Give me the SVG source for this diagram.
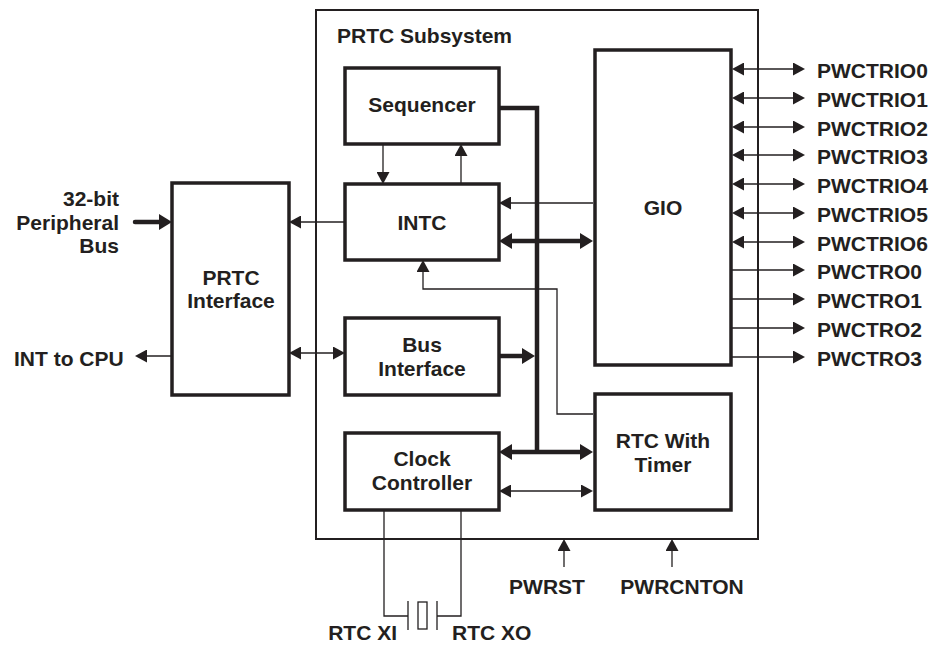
<svg xmlns="http://www.w3.org/2000/svg" width="930" height="645" viewBox="0 0 930 645">
<style>
text{font-family:"Liberation Sans",Arial,sans-serif;font-weight:bold;font-size:21px;fill:#231f20}
.c{text-anchor:middle}
.e{text-anchor:end}
.box{fill:#fff;stroke:#231f20;stroke-width:3.5}
.outer{fill:#fff;stroke:#231f20;stroke-width:2}
.thin{fill:none;stroke:#231f20;stroke-width:1.3}
.thick{fill:none;stroke:#231f20;stroke-width:4.5}
.ta{marker-end:url(#a)}
.tb{marker-start:url(#a);marker-end:url(#a)}
.Ta{marker-end:url(#A)}
.Tb{marker-start:url(#A);marker-end:url(#A)}
</style>
<defs>
<marker id="a" markerUnits="userSpaceOnUse" viewBox="0 0 12 13" markerWidth="12" markerHeight="13" refX="9" refY="6.5" orient="auto-start-reverse"><path d="M0,0L12,6.5L0,13z" fill="#231f20"/></marker>
<marker id="A" markerUnits="userSpaceOnUse" viewBox="0 0 13 16" markerWidth="13" markerHeight="16" refX="7" refY="8" orient="auto-start-reverse"><path d="M0,0L13,8L0,16z" fill="#231f20"/></marker>
</defs>
<rect width="930" height="645" fill="#fff"/>
<g id="subsystem">
<rect class="outer" x="316" y="10" width="442" height="529"/>
<text x="337" y="43">PRTC Subsystem</text>
</g>
<g id="connectors">
<path class="thick Ta" d="M135,222H166" stroke-linecap="round"/>
<path class="thin ta" d="M345,222H292"/>
<path class="thin ta" d="M172,356H138"/>
<path class="thin tb" d="M292,353H342"/>
<path class="thick Ta" d="M499,356H529"/>
<path class="thick" d="M499,108H537V452"/>
<path class="thick Tb" d="M505,452H587"/>
<path class="thin tb" d="M502,491H590"/>
<path class="thick Tb" d="M505,241H587"/>
<path class="thin ta" d="M593,203H502"/>
<path class="thin ta" d="M383,144V181"/>
<path class="thin ta" d="M461,184V147"/>
<path class="thin ta" d="M593,414H557V289H423V263"/>
<path class="thin tb" d="M735,69H802"/>
<path class="thin tb" d="M735,98H802"/>
<path class="thin tb" d="M735,127H802"/>
<path class="thin tb" d="M735,155H802"/>
<path class="thin tb" d="M735,184H802"/>
<path class="thin tb" d="M735,213H802"/>
<path class="thin tb" d="M735,242H802"/>
<path class="thin ta" d="M731,270H802"/>
<path class="thin ta" d="M731,299H802"/>
<path class="thin ta" d="M731,328H802"/>
<path class="thin ta" d="M731,357H802"/>
<path class="thin ta" d="M564,567V542"/>
<path class="thin ta" d="M672,567V542"/>
<path class="thin" d="M384,510V616H408M408,601V630M437,601V630M437,616H461V510"/>
<rect class="thin" x="418" y="602" width="9" height="27"/>
</g>
<g id="prtc-interface">
<rect class="box" x="172" y="183" width="117" height="212"/>
<text class="c" x="231" y="285">PRTC</text>
<text class="c" x="231" y="308">Interface</text>
</g>
<g id="sequencer">
<rect class="box" x="345" y="68" width="154" height="76"/>
<text class="c" x="422" y="112">Sequencer</text>
</g>
<g id="intc">
<rect class="box" x="345" y="184" width="154" height="76"/>
<text class="c" x="422" y="230">INTC</text>
</g>
<g id="bus-interface">
<rect class="box" x="345" y="318" width="154" height="77"/>
<text class="c" x="422" y="352">Bus</text>
<text class="c" x="422" y="376">Interface</text>
</g>
<g id="clock-controller">
<rect class="box" x="345" y="433" width="154" height="77"/>
<text class="c" x="422" y="466">Clock</text>
<text class="c" x="422" y="490">Controller</text>
</g>
<g id="gio">
<rect class="box" x="595" y="50" width="136" height="315"/>
<text class="c" x="663" y="215">GIO</text>
</g>
<g id="rtc-timer">
<rect class="box" x="595" y="394" width="136" height="116"/>
<text class="c" x="663" y="448">RTC With</text>
<text class="c" x="663" y="472">Timer</text>
</g>
<g id="labels">
<text class="e" x="119" y="206">32-bit</text>
<text class="e" x="119" y="230">Peripheral</text>
<text class="e" x="119" y="253">Bus</text>
<text x="14" y="366">INT to CPU</text>
<text x="817" y="78">PWCTRIO0</text>
<text x="817" y="107">PWCTRIO1</text>
<text x="817" y="136">PWCTRIO2</text>
<text x="817" y="164">PWCTRIO3</text>
<text x="817" y="193">PWCTRIO4</text>
<text x="817" y="222">PWCTRIO5</text>
<text x="817" y="251">PWCTRIO6</text>
<text x="817" y="279">PWCTRO0</text>
<text x="817" y="308">PWCTRO1</text>
<text x="817" y="337">PWCTRO2</text>
<text x="817" y="366">PWCTRO3</text>
<text class="c" x="547" y="594">PWRST</text>
<text class="c" x="682" y="594">PWRCNTON</text>
<text class="e" x="397" y="640">RTC XI</text>
<text x="452" y="640">RTC XO</text>
</g>
</svg>
